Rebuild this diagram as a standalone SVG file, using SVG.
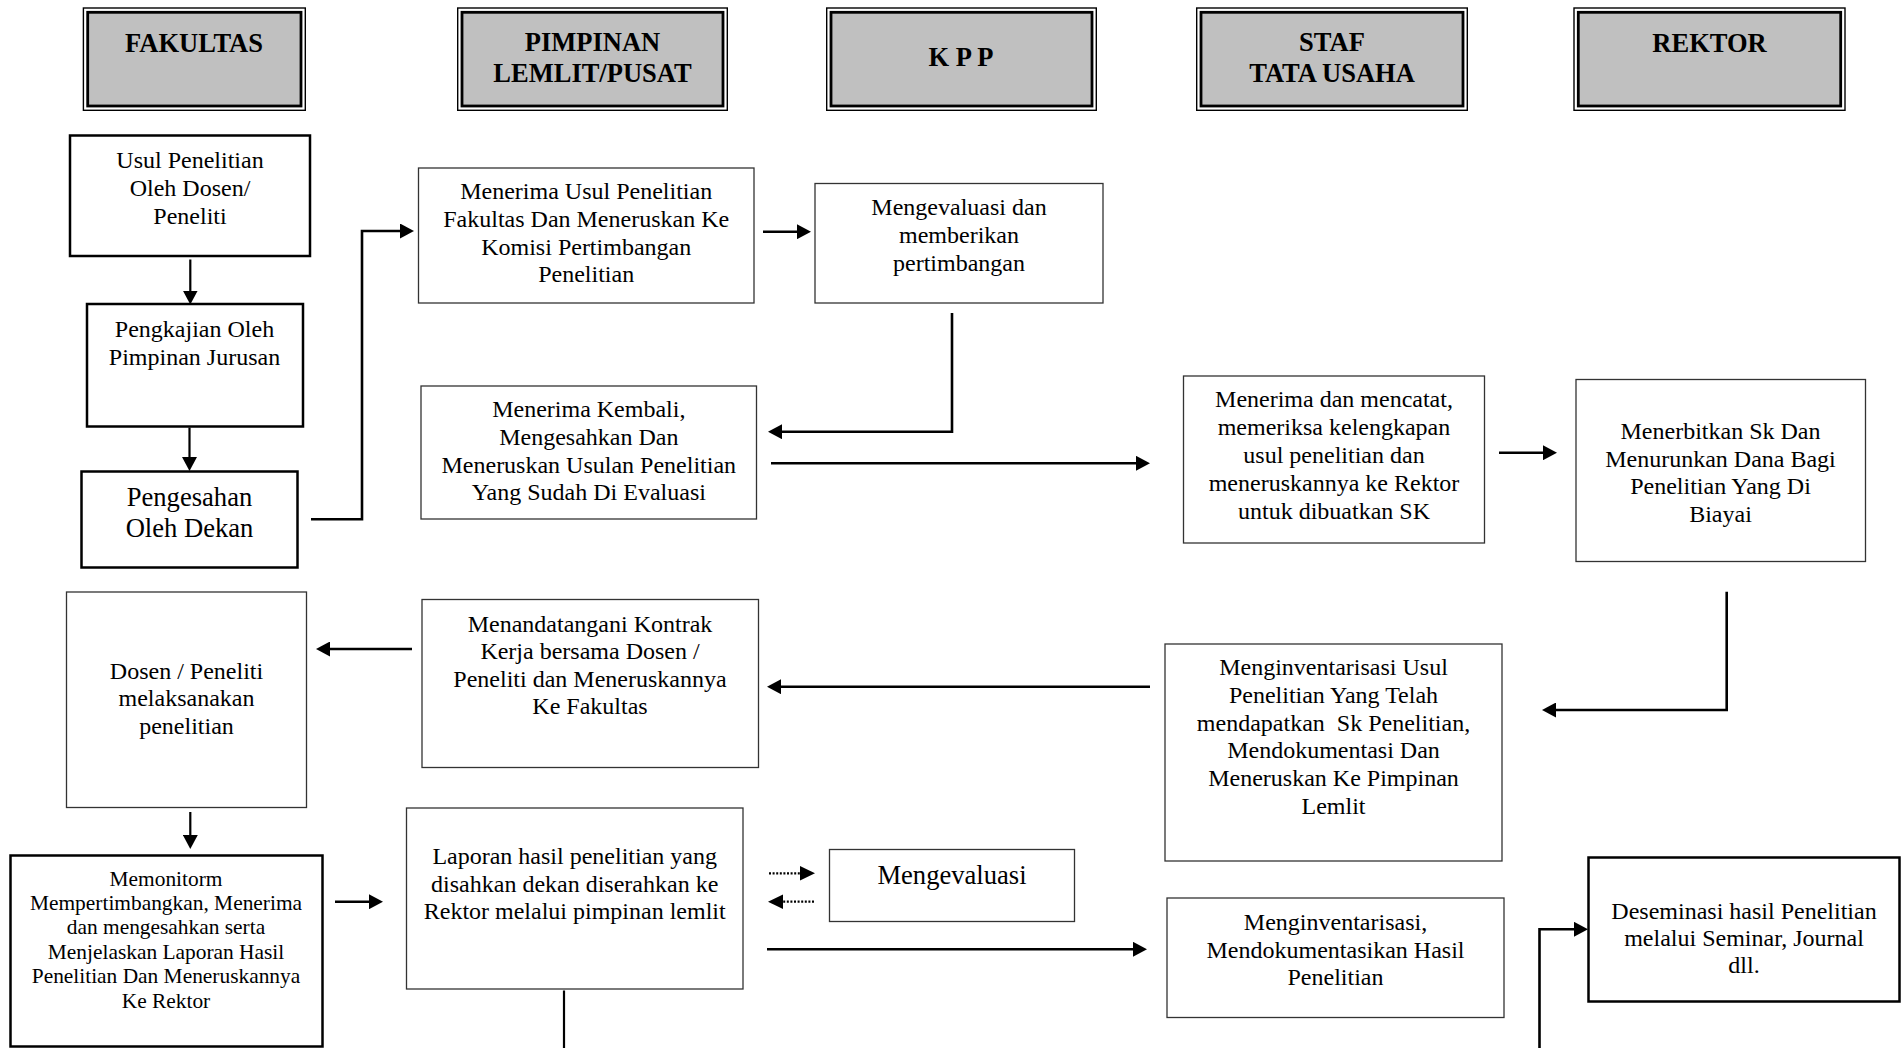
<svg xmlns="http://www.w3.org/2000/svg" width="1904" height="1048" viewBox="0 0 1904 1048">
  <defs>
    <style>
      text { font-family: "Liberation Serif", "Times New Roman", serif; fill: #000; text-anchor: middle; }
      .hd { font-size: 26.5px; font-weight: bold; }
      .t { font-size: 24px; }
      .tl { font-size: 26.6px; }
      .ts { font-size: 21.4px; }
      .h-out { fill: #fff; stroke: #000; stroke-width: 1.4; }
      .h-in { fill: #c0c0c0; stroke: #000; stroke-width: 2.8; }
      .box { fill: #fff; stroke: #333; stroke-width: 1.3; }
      .box-b { fill: #fff; stroke: #000; stroke-width: 2.5; }
      .ln { fill: none; stroke: #000; stroke-width: 2.6; }
      .lv { fill: none; stroke: #000; stroke-width: 2.2; }
      .dot { fill: none; stroke: #000; stroke-width: 2.2; stroke-dasharray: 2 1.6; }
    </style>
    <marker id="ah" markerUnits="userSpaceOnUse" markerWidth="15" markerHeight="15" refX="10" refY="7.5" orient="auto">
      <path d="M0,0 L14,7.5 L0,15 z" fill="#000"/>
    </marker>
  </defs>
  <rect width="1904" height="1048" fill="#fff"/>

  <!-- column headers -->
  <g id="hdr-fakultas">
    <rect class="h-out" x="83.4" y="8" width="221.9" height="102.3"/>
    <rect class="h-in" x="87.7" y="12.3" width="213.3" height="93.7"/>
    <text class="hd" x="194" y="51.5">FAKULTAS</text>
  </g>
  <g id="hdr-pimpinan">
    <rect class="h-out" x="457.7" y="8" width="269.6" height="102.3"/>
    <rect class="h-in" x="462" y="12.3" width="261" height="93.7"/>
    <text class="hd" x="592.5" y="51">PIMPINAN</text>
    <text class="hd" x="592.5" y="81.5">LEMLIT/PUSAT</text>
  </g>
  <g id="hdr-kpp">
    <rect class="h-out" x="826.7" y="8" width="269.6" height="102.3"/>
    <rect class="h-in" x="831" y="12.3" width="261" height="93.7"/>
    <text class="hd" x="961" y="66">K P P</text>
  </g>
  <g id="hdr-staf">
    <rect class="h-out" x="1196.7" y="8" width="270.6" height="102.3"/>
    <rect class="h-in" x="1201" y="12.3" width="262" height="93.7"/>
    <text class="hd" x="1332" y="50.5">STAF</text>
    <text class="hd" x="1332" y="81.5">TATA USAHA</text>
  </g>
  <g id="hdr-rektor">
    <rect class="h-out" x="1574" y="8" width="271" height="102.3"/>
    <rect class="h-in" x="1578.3" y="12.3" width="262.4" height="93.7"/>
    <text class="hd" x="1709.5" y="51.5">REKTOR</text>
  </g>

  <!-- process steps -->
  <g id="n-usul">
    <rect class="box-b" x="70" y="135.5" width="240" height="120.5"/>
    <text class="t" x="190" y="168">Usul Penelitian</text>
    <text class="t" x="190" y="196">Oleh Dosen/</text>
    <text class="t" x="190" y="224">Peneliti</text>
  </g>
  <g id="n-pengkajian">
    <rect class="box-b" x="87" y="304" width="216" height="122.5"/>
    <text class="t" x="194.5" y="336.5">Pengkajian Oleh</text>
    <text class="t" x="194.5" y="365">Pimpinan Jurusan</text>
  </g>
  <g id="n-pengesahan">
    <rect class="box-b" x="81.5" y="471.5" width="216" height="96"/>
    <text class="tl" x="189.5" y="506">Pengesahan</text>
    <text class="tl" x="189.5" y="536.5">Oleh Dekan</text>
  </g>
  <g id="n-menerima-usul">
    <rect class="box" x="418.5" y="168" width="335.5" height="135"/>
    <text class="t" x="586.2" y="199">Menerima Usul Penelitian</text>
    <text class="t" x="586.2" y="227">Fakultas Dan Meneruskan Ke</text>
    <text class="t" x="586.2" y="254.5">Komisi Pertimbangan</text>
    <text class="t" x="586.2" y="282">Penelitian</text>
  </g>
  <g id="n-evaluasi">
    <rect class="box" x="815" y="183.5" width="288" height="119.5"/>
    <text class="t" x="959" y="215">Mengevaluasi dan</text>
    <text class="t" x="959" y="243">memberikan</text>
    <text class="t" x="959" y="271">pertimbangan</text>
  </g>
  <g id="n-menerima-kembali">
    <rect class="box" x="421" y="386" width="335.5" height="133"/>
    <text class="t" x="588.8" y="416.5">Menerima Kembali,</text>
    <text class="t" x="588.8" y="445">Mengesahkan Dan</text>
    <text class="t" x="588.8" y="472.5">Meneruskan Usulan Penelitian</text>
    <text class="t" x="588.8" y="500">Yang Sudah Di Evaluasi</text>
  </g>
  <g id="n-mencatat">
    <rect class="box" x="1183.5" y="376" width="301" height="167"/>
    <text class="t" x="1334" y="406.5">Menerima dan mencatat,</text>
    <text class="t" x="1334" y="435">memeriksa kelengkapan</text>
    <text class="t" x="1334" y="463">usul penelitian dan</text>
    <text class="t" x="1334" y="490.5">meneruskannya ke Rektor</text>
    <text class="t" x="1334" y="518.5">untuk dibuatkan SK</text>
  </g>
  <g id="n-sk">
    <rect class="box" x="1576" y="379.5" width="289.5" height="182"/>
    <text class="t" x="1720.5" y="438.5">Menerbitkan Sk Dan</text>
    <text class="t" x="1720.5" y="466.5">Menurunkan Dana Bagi</text>
    <text class="t" x="1720.5" y="494">Penelitian Yang Di</text>
    <text class="t" x="1720.5" y="521.5">Biayai</text>
  </g>
  <g id="n-melaksanakan">
    <rect class="box" x="66.5" y="592" width="240" height="215.5"/>
    <text class="t" x="186.5" y="678.5">Dosen / Peneliti</text>
    <text class="t" x="186.5" y="706">melaksanakan</text>
    <text class="t" x="186.5" y="734">penelitian</text>
  </g>
  <g id="n-kontrak">
    <rect class="box" x="422" y="599.5" width="336.5" height="168"/>
    <text class="t" x="590" y="631.5">Menandatangani Kontrak</text>
    <text class="t" x="590" y="659">Kerja bersama Dosen /</text>
    <text class="t" x="590" y="686.5">Peneliti dan Meneruskannya</text>
    <text class="t" x="590" y="714">Ke Fakultas</text>
  </g>
  <g id="n-inventaris-sk">
    <rect class="box" x="1165" y="644" width="337" height="217"/>
    <text class="t" x="1333.5" y="675">Menginventarisasi Usul</text>
    <text class="t" x="1333.5" y="703">Penelitian Yang Telah</text>
    <text class="t" x="1333.5" y="730.5" xml:space="preserve">mendapatkan  Sk Penelitian,</text>
    <text class="t" x="1333.5" y="758">Mendokumentasi Dan</text>
    <text class="t" x="1333.5" y="786">Meneruskan Ke Pimpinan</text>
    <text class="t" x="1333.5" y="813.5">Lemlit</text>
  </g>
  <g id="n-monitor">
    <rect class="box-b" x="10.5" y="855.5" width="312" height="191"/>
    <text class="ts" x="166" y="886">Memonitorm</text>
    <text class="ts" x="166" y="910">Mempertimbangkan, Menerima</text>
    <text class="ts" x="166" y="934">dan mengesahkan serta</text>
    <text class="ts" x="166" y="958.5">Menjelaskan Laporan Hasil</text>
    <text class="ts" x="166" y="983">Penelitian Dan Meneruskannya</text>
    <text class="ts" x="166" y="1008">Ke Rektor</text>
  </g>
  <g id="n-laporan">
    <rect class="box" x="406.5" y="808" width="336.5" height="181"/>
    <text class="t" x="574.7" y="864">Laporan hasil penelitian yang</text>
    <text class="t" x="574.7" y="891.5">disahkan dekan diserahkan ke</text>
    <text class="t" x="574.7" y="918.5">Rektor melalui pimpinan lemlit</text>
  </g>
  <g id="n-mengevaluasi">
    <rect class="box" x="829.5" y="849.5" width="245" height="72"/>
    <text class="tl" x="952" y="883.5">Mengevaluasi</text>
  </g>
  <g id="n-inventaris-hasil">
    <rect class="box" x="1167" y="898" width="337" height="119.5"/>
    <text class="t" x="1335.5" y="930">Menginventarisasi,</text>
    <text class="t" x="1335.5" y="957.5">Mendokumentasikan Hasil</text>
    <text class="t" x="1335.5" y="985">Penelitian</text>
  </g>
  <g id="n-deseminasi">
    <rect class="box-b" x="1588.5" y="857.5" width="311" height="144"/>
    <text class="t" x="1744" y="918.5">Deseminasi hasil Penelitian</text>
    <text class="t" x="1744" y="946">melalui Seminar, Journal</text>
    <text class="t" x="1744" y="973">dll.</text>
  </g>

  <!-- connectors -->
  <g id="connectors">
    <path class="lv" d="M190.3,259.5 V300.5" marker-end="url(#ah)"/>
    <path class="lv" d="M189.5,427.5 V467" marker-end="url(#ah)"/>
    <path class="ln" d="M311,519.3 H362 V231 H410" marker-end="url(#ah)"/>
    <path class="ln" d="M763,231.7 H807" marker-end="url(#ah)"/>
    <path class="ln" d="M952,313 V431.7 H772" marker-end="url(#ah)"/>
    <path class="ln" d="M771,463.3 H1146" marker-end="url(#ah)"/>
    <path class="ln" d="M1499,452.7 H1553" marker-end="url(#ah)"/>
    <path class="ln" d="M1726.7,591.7 V710 H1546" marker-end="url(#ah)"/>
    <path class="ln" d="M1150,686.7 H771" marker-end="url(#ah)"/>
    <path class="ln" d="M412,649 H320" marker-end="url(#ah)"/>
    <path class="lv" d="M190.3,812 V845" marker-end="url(#ah)"/>
    <path class="ln" d="M335,901.7 H379" marker-end="url(#ah)"/>
    <path class="dot" d="M769,873.3 H801"/>
    <path fill="#000" d="M800,866 L815,873.3 L800,880.6 z"/>
    <path class="dot" d="M814,901.7 H782"/>
    <path fill="#000" d="M783,894.4 L768,901.7 L783,909 z"/>
    <path class="ln" d="M767,949.3 H1143" marker-end="url(#ah)"/>
    <path class="lv" d="M564,990.5 V1048"/>
    <path class="ln" d="M1539.5,1048 V929.3 H1584" marker-end="url(#ah)"/>
  </g>
</svg>
